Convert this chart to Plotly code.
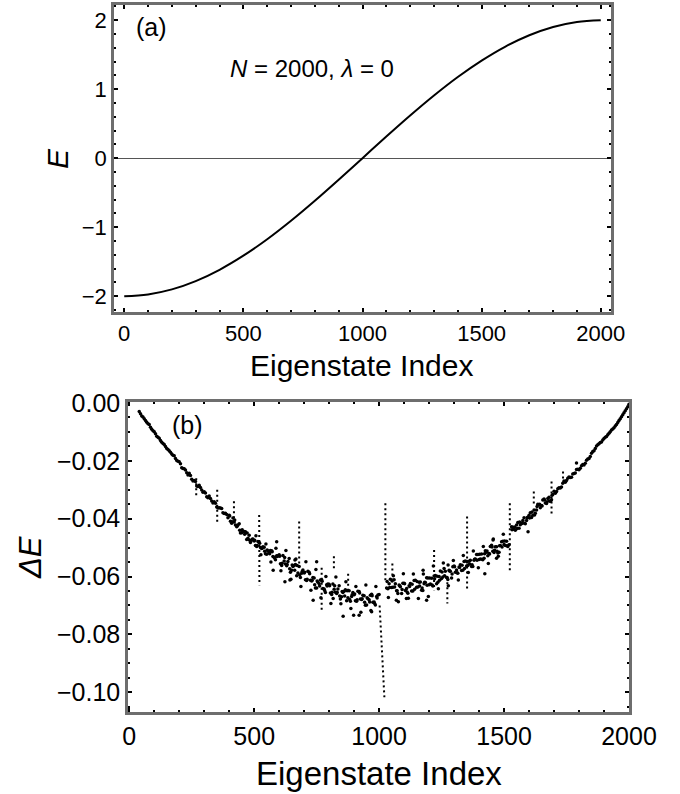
import plotly.graph_objects as go

# ---------------- Panel (a) data ----------------
a_index = [0, 100, 200, 300, 400, 500, 600, 700, 800, 900, 1000,
           1100, 1200, 1300, 1400, 1500, 1600, 1700, 1800, 1900, 2000]
a_energy = [-2.0, -1.975, -1.902, -1.782, -1.618, -1.414, -1.176, -0.908, -0.618, -0.313, 0.0,
            0.313, 0.618, 0.908, 1.176, 1.414, 1.618, 1.782, 1.902, 1.975, 2.0]

# ---------------- Panel (b) data ----------------
b_index_1 = [40, 50, 60, 70, 80, 90, 100, 110, 120, 130, 140, 150, 160, 170, 180, 190,
             200, 210, 220, 230, 240, 250, 260, 270, 280, 290, 300, 310, 320, 330, 340, 350,
             360, 370, 380, 390, 400, 410, 420, 430, 440, 450, 460, 470, 480, 490, 500, 510,
             520, 530, 540, 550, 560, 570, 580, 590, 600, 610, 620, 630, 640, 650, 660, 670,
             680, 690, 700, 710, 720, 730, 740, 750, 760, 770, 780, 790, 800, 810, 820, 830,
             840, 850, 860, 870, 880, 890, 900, 910, 920, 930, 940, 950, 960, 970, 980, 990,
             1000, 1030, 1040, 1050, 1060, 1070, 1080, 1090, 1100, 1110, 1120, 1130, 1140, 1150,
             1160, 1170, 1180, 1190, 1200, 1210, 1220, 1230, 1240, 1250, 1260, 1270, 1280, 1290,
             1300, 1310, 1320, 1330, 1340, 1350, 1360, 1370, 1380, 1390, 1400, 1410, 1420, 1430,
             1440, 1450, 1460, 1470, 1480, 1490, 1500, 1510, 1520, 1530, 1540, 1550, 1560, 1570,
             1580, 1590, 1600, 1610, 1620, 1630, 1640, 1650, 1660, 1670, 1680, 1690, 1700, 1710,
             1720, 1730, 1740, 1750, 1760, 1770, 1780, 1790, 1800, 1810, 1820, 1830, 1840, 1850,
             1860, 1870, 1880, 1890, 1900, 1910, 1920, 1930, 1940, 1950, 1960, 1970, 1980, 1990,
             2000]
b_delta_1 = [-0.0030, -0.0045, -0.0055, -0.0067, -0.0075, -0.0091, -0.0100, -0.0115, -0.0122,
             -0.0136, -0.0144, -0.0158, -0.0165, -0.0177, -0.0183, -0.0199,
             -0.0203, -0.0224, -0.0228, -0.0241, -0.0243, -0.0264, -0.0268, -0.0287, -0.0285,
             -0.0301, -0.0307, -0.0324, -0.0322, -0.0339, -0.0342, -0.0360, -0.0362, -0.0365,
             -0.0382, -0.0386,
             -0.0388, -0.0416, -0.0412, -0.0428, -0.0418, -0.0449, -0.0444, -0.0472, -0.0457,
             -0.0475, -0.0477, -0.0496, -0.0482, -0.0503, -0.0499, -0.0523, -0.0516, -0.0511,
             -0.0533, -0.0528,
             -0.0525, -0.0562, -0.0546, -0.0563, -0.0538, -0.0578, -0.0562, -0.0597, -0.0565,
             -0.0589, -0.0588, -0.0614, -0.0585, -0.0615, -0.0605, -0.0640, -0.0625, -0.0611,
             -0.0643, -0.0628, -0.0627, -0.0662, -0.0644, -0.0659, -0.0632, -0.0670, -0.0651,
             -0.0684, -0.0649, -0.0669, -0.0663, -0.0685, -0.0652, -0.0679, -0.0666, -0.0698,
             -0.0680, -0.0661, -0.0688, -0.0669, -0.0662,
             -0.0640, -0.0625, -0.0638, -0.0611, -0.0649, -0.0629, -0.0659, -0.0623, -0.0641,
             -0.0632, -0.0650, -0.0614, -0.0637, -0.0620, -0.0647, -0.0625, -0.0604, -0.0628,
             -0.0606, -0.0598, -0.0625, -0.0600, -0.0607, -0.0572, -0.0603, -0.0578, -0.0605,
             -0.0564,
             -0.0577, -0.0567, -0.0579, -0.0548, -0.0564, -0.0547, -0.0565, -0.0544, -0.0524,
             -0.0541, -0.0522, -0.0537, -0.0516, -0.0520, -0.0492, -0.0517, -0.0497, -0.0516,
             -0.0480, -0.0489, -0.0478, -0.0490,
             -0.0428, -0.0437, -0.0422, -0.0433, -0.0415, -0.0397, -0.0406, -0.0388, -0.0396,
             -0.0370, -0.0370, -0.0353, -0.0355, -0.0332, -0.0348, -0.0326, -0.0335, -0.0305,
             -0.0306, -0.0293, -0.0291, -0.0270, -0.0268, -0.0256, -0.0257, -0.0244, -0.0230,
             -0.0231, -0.0217, -0.0215, -0.0198, -0.0192, -0.0174,
             -0.0165, -0.0149, -0.0141, -0.0135, -0.0123, -0.0116, -0.0105, -0.0094, -0.0086,
             -0.0075, -0.0061, -0.0048, -0.0034, -0.0020, -0.0005]

b_index_2 = list(range(405, 1000, 10)) + list(range(1035, 1520, 10)) + list(range(1535, 1700, 10))
b_delta_2 = [-0.0409, -0.0398, -0.0422, -0.0422, -0.0450, -0.0444, -0.0445, -0.0468, -0.0482,
             -0.0470, -0.0493, -0.0479, -0.0500, -0.0497, -0.0521, -0.0512, -0.0510, -0.0531,
             -0.0542, -0.0528,
             -0.0556, -0.0527, -0.0557, -0.0548, -0.0585, -0.0565, -0.0558, -0.0588, -0.0603,
             -0.0577, -0.0611, -0.0582, -0.0613, -0.0603, -0.0640, -0.0620, -0.0612, -0.0641,
             -0.0655, -0.0626, -0.0657, -0.0626, -0.0654, -0.0643, -0.0678, -0.0655, -0.0646,
             -0.0673, -0.0685, -0.0655, -0.0684, -0.0651, -0.0678, -0.0665, -0.0699, -0.0677,
             -0.0665, -0.0689, -0.0698, -0.0664,
             -0.0642, -0.0609, -0.0637, -0.0625, -0.0659, -0.0635, -0.0623, -0.0648, -0.0658,
             -0.0624, -0.0650, -0.0613, -0.0636, -0.0619, -0.0648, -0.0621, -0.0605, -0.0626,
             -0.0633, -0.0596, -0.0620, -0.0581, -0.0602, -0.0582, -0.0610, -0.0582, -0.0566,
             -0.0585, -0.0589, -0.0559, -0.0578, -0.0546, -0.0562, -0.0544, -0.0565, -0.0539,
             -0.0524, -0.0539, -0.0542, -0.0511, -0.0528, -0.0496, -0.0513, -0.0497, -0.0519,
             -0.0493, -0.0478, -0.0493, -0.0496,
             -0.0430, -0.0440, -0.0413, -0.0421, -0.0406, -0.0418, -0.0395, -0.0380, -0.0388,
             -0.0381, -0.0350, -0.0362, -0.0336, -0.0346, -0.0330, -0.0340, -0.0317]

b_index_3 = list(range(45, 400, 10)) + list(range(1705, 2000, 10))
b_delta_3 = [-0.0038, -0.0049, -0.0061, -0.0072, -0.0084, -0.0096, -0.0107, -0.0119, -0.0130,
             -0.0140, -0.0151, -0.0161, -0.0171, -0.0181, -0.0192, -0.0202,
             -0.0210, -0.0227, -0.0232, -0.0249, -0.0251, -0.0270, -0.0272, -0.0289, -0.0292,
             -0.0309, -0.0311, -0.0328, -0.0330, -0.0346, -0.0347, -0.0363, -0.0363, -0.0380,
             -0.0381, -0.0397,
             -0.0312, -0.0297, -0.0294, -0.0278, -0.0274, -0.0260, -0.0258, -0.0246, -0.0242,
             -0.0229, -0.0226, -0.0213, -0.0209, -0.0194, -0.0185, -0.0168, -0.0158, -0.0145,
             -0.0137, -0.0128, -0.0119, -0.0110, -0.0100, -0.0090, -0.0080, -0.0068, -0.0055,
             -0.0041, -0.0027, -0.0013]

b_index_4 = list(range(402, 1000, 10)) + list(range(1032, 1520, 10)) + list(range(1532, 1700, 10))
b_delta_4 = [-0.0391, -0.0411, -0.0405, -0.0425, -0.0440, -0.0438, -0.0454, -0.0450, -0.0475,
             -0.0471, -0.0475, -0.0493, -0.0485, -0.0502, -0.0513, -0.0508, -0.0521, -0.0514,
             -0.0536, -0.0531,
             -0.0530, -0.0554, -0.0534, -0.0558, -0.0573, -0.0560, -0.0578, -0.0562, -0.0595,
             -0.0583, -0.0585, -0.0609, -0.0590, -0.0613, -0.0628, -0.0615, -0.0633, -0.0616,
             -0.0648, -0.0633, -0.0632, -0.0654, -0.0632, -0.0654, -0.0667, -0.0652, -0.0667,
             -0.0649, -0.0679, -0.0663, -0.0660, -0.0680, -0.0657, -0.0677, -0.0689, -0.0673,
             -0.0688, -0.0666, -0.0693, -0.0674,
             -0.0617, -0.0638, -0.0615, -0.0636, -0.0649, -0.0632, -0.0645, -0.0625, -0.0653,
             -0.0634, -0.0627, -0.0644, -0.0617, -0.0633, -0.0640, -0.0620, -0.0630, -0.0605,
             -0.0629, -0.0608, -0.0599, -0.0613, -0.0584, -0.0597, -0.0603, -0.0581, -0.0591,
             -0.0566,
             -0.0587, -0.0569, -0.0561, -0.0572, -0.0548, -0.0557, -0.0559, -0.0540, -0.0544,
             -0.0523, -0.0540, -0.0521, -0.0512, -0.0522, -0.0498, -0.0509, -0.0513, -0.0494,
             -0.0498, -0.0477, -0.0494,
             -0.0438, -0.0429, -0.0434, -0.0412, -0.0417, -0.0416, -0.0397, -0.0398, -0.0377,
             -0.0387, -0.0358, -0.0350, -0.0356, -0.0336, -0.0342, -0.0339, -0.0319]

# sparser outer edge of the scattered band
b_index_5 = list(range(507, 1000, 20)) + list(range(1037, 1500, 20))
b_delta_5 = [-0.0459, -0.0525, -0.0488, -0.0550, -0.0502,
             -0.0580, -0.0510, -0.0609, -0.0539, -0.0634, -0.0549, -0.0647, -0.0576, -0.0673,
             -0.0600, -0.0693, -0.0602, -0.0694, -0.0618, -0.0710, -0.0634, -0.0723, -0.0629,
             -0.0717, -0.0634,
             -0.0672, -0.0597, -0.0687, -0.0590, -0.0675, -0.0591, -0.0676, -0.0591, -0.0669,
             -0.0564, -0.0642, -0.0553, -0.0632, -0.0545,
             -0.0612, -0.0527, -0.0586, -0.0512, -0.0570, -0.0496, -0.0555, -0.0470, -0.0530,
             -0.0454]

b_outlier_index = [576, 590, 623, 643, 663, 736, 750, 816, 856, 898, 920, 970,
                   1069, 1109, 1176, 1190, 1276, 1423, 1456, 1470, 1596, 1790]
b_outlier_delta = [-0.0578, -0.0480, -0.0618, -0.0612, -0.0543, -0.0682, -0.0549, -0.0676,
                   -0.0737, -0.0734, -0.0734, -0.0722,
                   -0.0682, -0.0676, -0.0578, -0.0682, -0.0560, -0.0590, -0.0474, -0.0537,
                   -0.0445, -0.0208]

# vertical dotted runs of consecutive states
spike_index_top = [268, 352, 419, 520, 680, 770, 819, 876, 1002, 1025, 1053,
                   1220, 1273, 1352, 1523, 1619, 1690, 1736]
spike_index_bottom = [268, 352, 419, 521, 680, 770, 819, 876, 1021, 1025, 1053,
                      1220, 1273, 1352, 1523, 1619, 1690, 1736]
spike_top = [-0.0260, -0.0300, -0.0340, -0.0387, -0.0410, -0.0570, -0.0530, -0.0590, -0.0700,
             -0.0347, -0.0555, -0.0508, -0.0620, -0.0393, -0.0347, -0.0306, -0.0272, -0.0237]
spike_bottom = [-0.0320, -0.0416, -0.0400, -0.0630, -0.0555, -0.0716, -0.0580, -0.0650, -0.1017,
                -0.0620, -0.0610, -0.0647, -0.0693, -0.0641, -0.0589, -0.0358, -0.0387, -0.0277]

assert len(b_index_1) == len(b_delta_1)
assert len(b_index_2) == len(b_delta_2)
assert len(b_index_3) == len(b_delta_3)
assert len(b_index_4) == len(b_delta_4)
assert len(b_index_5) == len(b_delta_5)

# ---------------- Figure ----------------
W, H = 680, 794
FONT = "Liberation Sans, Arial, Helvetica, sans-serif"
FRAME = "#6e6e6e"

def px_x(p):
    return p / W

def px_y(p):
    return 1 - p / H

fig = go.Figure()

fig.add_trace(go.Scatter(x=a_index, y=a_energy, mode="lines", line=dict(color="black", width=2, shape="spline"),
                         xaxis="x", yaxis="y", showlegend=False, hoverinfo="skip"))

sx, sy = [], []
for x0, x1, y0, y1 in zip(spike_index_top, spike_index_bottom, spike_top, spike_bottom):
    sx += [x0, x1, None]
    sy += [y0, y1, None]
fig.add_trace(go.Scatter(x=sx, y=sy, mode="lines", line=dict(color="black", width=2, dash="2px,3px"),
                         xaxis="x2", yaxis="y2", showlegend=False, hoverinfo="skip"))

for xs, ys in [(b_index_1, b_delta_1), (b_index_2, b_delta_2), (b_index_3, b_delta_3),
               (b_index_4, b_delta_4), (b_index_5, b_delta_5), (b_outlier_index, b_outlier_delta)]:
    fig.add_trace(go.Scatter(x=xs, y=ys, mode="markers", marker=dict(color="black", size=3.5, line=dict(width=0)),
                             xaxis="x2", yaxis="y2", showlegend=False, hoverinfo="skip"))

def axis(domain, rng, dtick, minor_dtick, anchor, fs, fmt=None, zeroline=False):
    d = dict(domain=domain, range=rng, dtick=dtick, tick0=0, anchor=anchor,
             showline=True, linecolor=FRAME, linewidth=2.5, mirror="allticks",
             ticks="inside", ticklen=4.5, tickwidth=2.2, tickcolor="black",
             showgrid=False, zeroline=zeroline, zerolinecolor="#555555", zerolinewidth=1,
             automargin=False,
             tickfont=dict(family=FONT, size=fs, color="black"),
             minor=dict(dtick=minor_dtick, tick0=0, ticks="inside", ticklen=2.5, tickwidth=2.2,
                        tickcolor="black", showgrid=False))
    if fmt:
        d["tickformat"] = fmt
    return d

fig.update_layout(
    width=W, height=H, autosize=False, margin=dict(l=0, r=0, t=0, b=0, autoexpand=False),
    paper_bgcolor="white", plot_bgcolor="white",
    xaxis=axis([px_x(114), px_x(611)], [-43, 2043], 500, 100, "y", 22),
    yaxis=axis([px_y(312), px_y(5)], [-2.23, 2.22], 1, 0.2, "x", 22, zeroline=True),
    xaxis2=axis([px_x(128), px_x(629)], [-5, 2000], 500, 100, "y2", 25),
    yaxis2=axis([px_y(712), px_y(402)], [-0.1068, 0.0003], 0.02, 0.005, "x2", 25, fmt=".2f"),
)

def ann(text, x, y, size, angle=0):
    fig.add_annotation(text=text, x=px_x(x), y=px_y(y), xref="paper", yref="paper",
                       xanchor="center", yanchor="middle", showarrow=False, textangle=angle,
                       font=dict(family=FONT, size=size, color="black"))

ann("Eigenstate Index", 362, 365, 30)
ann("<i>E</i>", 57, 158, 30, -90)
ann("(a)", 151, 27, 25)
ann("<i>N</i> = 2000, <i>λ</i> = 0", 312, 68, 24)
ann("Eigenstate Index", 379, 773, 33)
ann("<i>ΔE</i>", 30, 558, 31, -90)
ann("(b)", 187, 425, 25)

fig.write_html(
    "out.html",
    config={"responsive": False, "displayModeBar": False},
    post_script="document.body.style.margin='0';document.body.style.overflow='hidden';",
)
